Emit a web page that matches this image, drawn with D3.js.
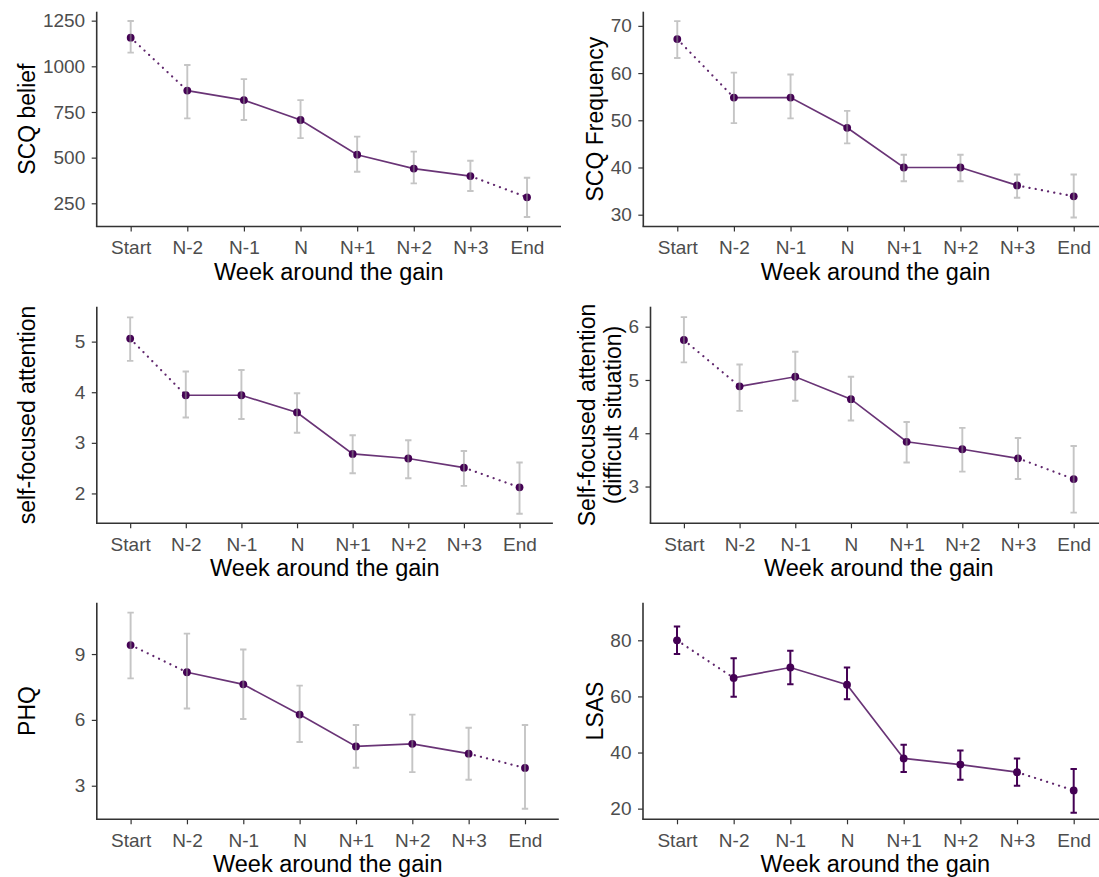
<!DOCTYPE html>
<html>
<head>
<meta charset="utf-8">
<script src="https://cdn.jsdelivr.net/npm/d3@7"></script>
<style>
  html, body { margin: 0; padding: 0; background: #fff; }
  svg { display: block; font-family: "Liberation Sans", Arial, sans-serif; }
</style>
</head>
<body>
<svg id="chart" width="1099" height="877" overflow="hidden"></svg>
<script>
// ---- data ----
const weeks = ["Start", "N-2", "N-1", "N", "N+1", "N+2", "N+3", "End"];

const scqBeliefMean  = [1157, 867, 815, 706, 516, 440, 399, 283];
const scqBeliefLow   = [1075, 715, 706, 607, 423, 359, 317, 175];
const scqBeliefHigh  = [1248, 1007, 930, 815, 615, 533, 483, 390];
const scqBeliefTicks = [250, 500, 750, 1000, 1250];

const scqFreqMean  = [67.2, 54.8, 54.8, 48.4, 40.0, 40.0, 36.2, 33.9];
const scqFreqLow   = [63.2, 49.4, 50.4, 45.1, 37.1, 37.1, 33.6, 29.4];
const scqFreqHigh  = [71.0, 60.1, 59.7, 52.0, 42.7, 42.7, 38.5, 38.5];
const scqFreqTicks = [30, 40, 50, 60, 70];

const sfaMean  = [5.06, 3.94, 3.94, 3.60, 2.78, 2.69, 2.51, 2.12];
const sfaLow   = [4.62, 3.50, 3.47, 3.20, 2.40, 2.30, 2.15, 1.60];
const sfaHigh  = [5.48, 4.41, 4.44, 3.98, 3.15, 3.05, 2.84, 2.61];
const sfaTicks = [2, 3, 4, 5];

const sfaDiffMean  = [5.75, 4.88, 5.06, 4.64, 3.84, 3.70, 3.53, 3.14];
const sfaDiffLow   = [5.33, 4.42, 4.61, 4.24, 3.45, 3.28, 3.14, 2.51];
const sfaDiffHigh  = [6.18, 5.29, 5.53, 5.06, 4.21, 4.10, 3.91, 3.76];
const sfaDiffTicks = [3, 4, 5, 6];

const phqMean  = [9.41, 8.17, 7.62, 6.24, 4.79, 4.91, 4.46, 3.81];
const phqLow   = [7.89, 6.52, 6.04, 4.99, 3.82, 3.62, 3.27, 1.95];
const phqHigh  = [10.89, 9.93, 9.21, 7.56, 5.77, 6.24, 5.64, 5.77];
const phqTicks = [3, 6, 9];

const lsasMean  = [80.0, 66.6, 70.3, 64.2, 37.9, 35.7, 33.0, 26.5];
const lsasLow   = [75.1, 59.9, 64.3, 59.0, 33.1, 30.3, 28.2, 18.5];
const lsasHigh  = [84.9, 73.6, 76.3, 70.3, 42.8, 40.7, 37.9, 34.1];
const lsasTicks = [20, 40, 60, 80];

const xTitle = "Week around the gain";

// ---- panels (layout) ----
const panels = [
  { title: ["SCQ belief"], mean: scqBeliefMean, low: scqBeliefLow, high: scqBeliefHigh, ticks: scqBeliefTicks,
    domain: [123, 1299], left: 96.7, right: 561, top: 11.7, bottom: 226.5, titleX: 35, ebDark: false },
  { title: ["SCQ Frequency"], mean: scqFreqMean, low: scqFreqLow, high: scqFreqHigh, ticks: scqFreqTicks,
    domain: [27.5, 73.0], left: 643.3, right: 1107.7, top: 11.7, bottom: 226.5, titleX: 602.6, ebDark: false },
  { title: ["self-focused attention"], mean: sfaMean, low: sfaLow, high: sfaHigh, ticks: sfaTicks,
    domain: [1.41, 5.69], left: 96.8, right: 552.9, top: 306.7, bottom: 523.3, titleX: 34.5, ebDark: false },
  { title: ["Self-focused attention", "(difficult situation)"], mean: sfaDiffMean, low: sfaDiffLow, high: sfaDiffHigh, ticks: sfaDiffTicks,
    domain: [2.31, 6.375], left: 650.5, right: 1107.1, top: 306.7, bottom: 523.3, titleX: 621, ebDark: false },
  { title: ["PHQ"], mean: phqMean, low: phqLow, high: phqHigh, ticks: phqTicks,
    domain: [1.47, 11.34], left: 96.8, right: 558.8, top: 602.7, bottom: 819.3, titleX: 35, ebDark: false },
  { title: ["LSAS"], mean: lsasMean, low: lsasLow, high: lsasHigh, ticks: lsasTicks,
    domain: [16.2, 93.4], left: 643, right: 1107.7, top: 602.7, bottom: 819.3, titleX: 602.6, ebDark: true }
];

const svg = d3.select("#chart");
const purple = "#440154";

panels.forEach(p => {
  const x = d3.scalePoint().domain(weeks).range([p.left, p.right]).padding(0.6);
  const y = d3.scaleLinear().domain(p.domain).range([p.bottom, p.top]);
  const g = svg.append("g");

  const rows = weeks.map((w, i) => ({ w, m: p.mean[i], lo: p.low[i], hi: p.high[i] }));

  // axes
  const xAxis = g.append("g").attr("transform", `translate(0,${p.bottom})`)
    .call(d3.axisBottom(x).tickSize(5).tickPadding(9.5).tickSizeOuter(0));
  const yAxis = g.append("g").attr("transform", `translate(${p.left},0)`)
    .call(d3.axisLeft(y).tickValues(p.ticks).tickFormat(d3.format("d")).tickSize(5).tickPadding(6.5).tickSizeOuter(0));
  [xAxis, yAxis].forEach(a => {
    a.select(".domain").attr("stroke", "#333").attr("stroke-width", 1.6);
    a.selectAll(".tick line").attr("stroke", "#333").attr("stroke-width", 1.2);
    a.selectAll(".tick text").attr("fill", "#4d4d4d").style("font-size", "19px")
      .style("font-family", '"Liberation Sans", Arial, sans-serif');
  });
  // axis lines span the full panel and meet at the corner
  xAxis.select(".domain").attr("d", `M${p.left - 0.8},0H${p.right}`);
  yAxis.select(".domain").attr("d", `M0,${p.top}V${p.bottom}`);

  // lines
  const line = d3.line().x(d => x(d.w)).y(d => y(d.m));
  g.append("path").datum(rows.slice(1, 7)).attr("d", line)
    .attr("fill", "none").attr("stroke", purple).attr("stroke-opacity", 0.8).attr("stroke-width", 1.7);
  [rows.slice(0, 2), rows.slice(6, 8)].forEach(seg => {
    g.append("path").datum(seg).attr("d", line)
      .attr("fill", "none").attr("stroke", purple).attr("stroke-opacity", 0.85)
      .attr("stroke-width", 2.2).attr("stroke-linecap", "round").attr("stroke-dasharray", "0.1 6.2");
  });

  // points
  g.selectAll("circle.pt").data(rows).join("circle").attr("class", "pt")
    .attr("cx", d => x(d.w)).attr("cy", d => y(d.m)).attr("r", 3.9).attr("fill", purple);

  // error bars
  const ebColor = p.ebDark ? purple : "rgb(150,150,150)";
  const ebOp = p.ebDark ? 1 : 0.55;
  const cap = 3.2;
  const eb = g.selectAll("g.eb").data(rows).join("g").attr("class", "eb")
    .attr("stroke", ebColor).attr("stroke-opacity", ebOp).attr("stroke-width", p.ebDark ? 2 : 1.9).attr("fill", "none");
  eb.append("path").attr("d", d => {
    const cx = x(d.w), t = y(d.hi), b = y(d.lo);
    return `M${cx - cap},${t}H${cx + cap}M${cx},${t}V${b}M${cx - cap},${b}H${cx + cap}`;
  });

  // axis titles
  g.append("text").attr("x", (p.left + p.right) / 2).attr("y", p.bottom + 53)
    .attr("text-anchor", "middle").style("font-size", "23.5px").attr("fill", "#000").text(xTitle);
  const cy = (p.top + p.bottom) / 2;
  const n = p.title.length;
  p.title.forEach((t, i) => {
    const bx = p.titleX - (n - 1 - i) * 26;
    g.append("text").attr("transform", `translate(${bx},${cy}) rotate(-90)`)
      .attr("text-anchor", "middle").style("font-size", "23px").attr("fill", "#000").text(t);
  });
});
</script>
</body>
</html>
